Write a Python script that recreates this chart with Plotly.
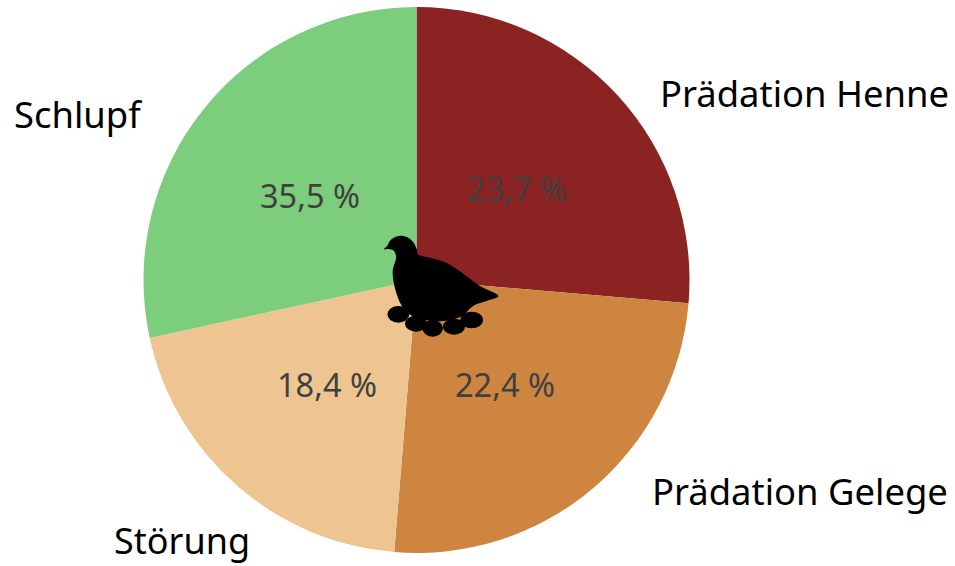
import plotly.graph_objects as go

W, H = 955, 566

categories = ["Prädation Henne", "Prädation Gelege", "Störung", "Schlupf"]
percent_labels = ["23,7 %", "22,4 %", "18,4 %", "35,5 %"]
slice_sizes = [26.35, 24.95, 20.3, 28.4]
colors = ["#8B2323", "#CD853F", "#EEC591", "#7CCD7C"]

label_pos = [(804, 93), (800, 491), (182, 540), (78, 114)]
label_size = [36.4, 36.4, 36, 36.4]
percent_pos = [(517, 189), (505, 384), (327, 384), (310, 195)]

FONT = "Noto Sans, Open Sans, sans-serif"

def px(x, y):
    return x / W, 1 - y / H

def zoom_pt(zx, zy):
    return 370 + zx / 3, 225 + zy / 3

bird = [(42, 72), (52, 62), (62, 45), (78, 35), (95, 32), (115, 38), (130, 52), (140, 72), (146, 90),
        (180, 98), (230, 114), (280, 146), (330, 183), (385, 212), (350, 228), (310, 242),
        (270, 276), (200, 289), (130, 274), (95, 242), (75, 190), (68, 140), (78, 100),
        (72, 78), (55, 72)]
eggs = [(85, 268, 33, 25), (138, 296, 33, 24), (188, 310, 31, 25), (252, 305, 33, 24), (305, 285, 34, 25)]

def smooth_path(points):
    pts = [px(*zoom_pt(*p)) for p in points]
    n = len(pts)
    d = f"M{pts[0][0]:.5f},{pts[0][1]:.5f}"
    for i in range(n):
        p0, p1, p2, p3 = pts[i - 1], pts[i], pts[(i + 1) % n], pts[(i + 2) % n]
        c1 = (p1[0] + (p2[0] - p0[0]) / 6, p1[1] + (p2[1] - p0[1]) / 6)
        c2 = (p2[0] - (p3[0] - p1[0]) / 6, p2[1] - (p3[1] - p1[1]) / 6)
        d += f" C{c1[0]:.5f},{c1[1]:.5f} {c2[0]:.5f},{c2[1]:.5f} {p2[0]:.5f},{p2[1]:.5f}"
    return d + " Z"

fig = go.Figure(go.Pie(
    labels=categories,
    values=slice_sizes,
    sort=False,
    direction="clockwise",
    rotation=0,
    textinfo="none",
    hole=0,
    marker=dict(colors=colors, line=dict(width=0)),
    showlegend=False,
    domain=dict(x=[143.5 / W, 689.5 / W], y=[1 - 553 / H, 1 - 7 / H]),
))

shapes = [dict(type="path", xref="paper", yref="paper", path=smooth_path(bird),
               fillcolor="black", line=dict(width=0), layer="above")]
for zx, zy, rx, ry in eggs:
    x0, y0 = px(*zoom_pt(zx - rx, zy - ry))
    x1, y1 = px(*zoom_pt(zx + rx, zy + ry))
    shapes.append(dict(type="circle", xref="paper", yref="paper", x0=x0, x1=x1, y0=y0, y1=y1,
                       fillcolor="black", line=dict(width=0), layer="above"))

annotations = []
for text, pos, size in zip(categories, label_pos, label_size):
    x, y = px(*pos)
    annotations.append(dict(text=text, x=x, y=y, xref="paper", yref="paper", showarrow=False,
                            xanchor="center", yanchor="middle",
                            font=dict(family=FONT, size=size, color="#000000")))
for text, pos in zip(percent_labels, percent_pos):
    x, y = px(*pos)
    annotations.append(dict(text=text, x=x, y=y, xref="paper", yref="paper", showarrow=False,
                            xanchor="center", yanchor="middle",
                            font=dict(family=FONT, size=32.5, color="#404040")))

fig.update_layout(width=W, height=H, margin=dict(l=0, r=0, t=0, b=0),
                  paper_bgcolor="white", shapes=shapes, annotations=annotations)

fig.write_html("out.html", config=dict(displayModeBar=False),
               post_script="document.body.style.margin='0';")
